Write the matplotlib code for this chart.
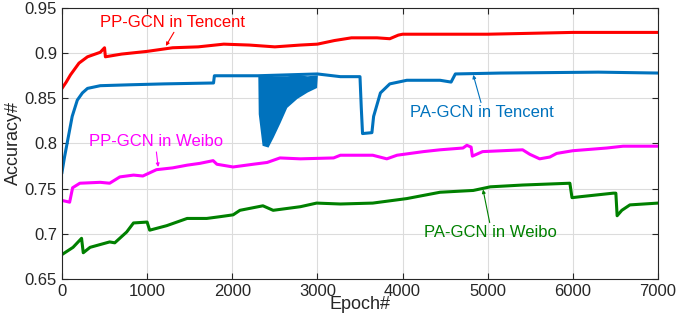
import numpy as np
import matplotlib
matplotlib.use('Agg')
import matplotlib.pyplot as plt

plt.rcParams['font.family'] = ['Liberation Sans', 'DejaVu Sans']

# PP-GCN in Tencent
pp_t_x = [0, 50, 100, 200, 300, 450, 500, 510, 700, 1000, 1300, 1600, 1900, 2200, 2500, 2800, 3000,
          3200, 3400, 3700, 3850, 3950, 4000, 4500, 5000, 5500, 6000, 6500, 7000]
pp_t_y = [0.861, 0.868, 0.876, 0.889, 0.896, 0.901, 0.906, 0.896, 0.899, 0.902, 0.906, 0.907, 0.910,
          0.909, 0.907, 0.909, 0.910, 0.914, 0.917, 0.917, 0.916, 0.920, 0.921, 0.921, 0.921, 0.922,
          0.923, 0.923, 0.923]

# PA-GCN in Tencent
pa_t_x = [0, 30, 60, 120, 180, 240, 300, 450, 800, 1200, 1780, 1790, 2300, 3000, 3270, 3500, 3515,
          3530, 3640, 3660, 3740, 3850, 4050, 4440, 4570, 4620, 5150, 6300, 7000]
pa_t_y = [0.768, 0.785, 0.800, 0.830, 0.848, 0.856, 0.861, 0.864, 0.865, 0.866, 0.867, 0.875, 0.875,
          0.877, 0.874, 0.874, 0.840, 0.811, 0.812, 0.830, 0.856, 0.866, 0.870, 0.870, 0.868, 0.877,
          0.878, 0.879, 0.878]
# oscillating band of PA-GCN in Tencent (lower envelope)
dip_x = [2300, 2305, 2350, 2420, 2480, 2560, 2640, 2760, 2880, 2990, 3000]
dip_top = [0.875, 0.875, 0.875, 0.876, 0.875, 0.875, 0.875, 0.876, 0.875, 0.876, 0.876]
dip_low = [0.875, 0.833, 0.798, 0.796, 0.807, 0.823, 0.840, 0.850, 0.857, 0.862, 0.876]

# PP-GCN in Weibo
pp_w_x = [0, 90, 125, 210, 450, 560, 680, 840, 950, 1110, 1300, 1470, 1620, 1775, 1820, 2010, 2245,
          2410, 2560, 2800, 3190, 3270, 3650, 3815, 3935, 4245, 4440, 4710, 4755, 4805, 4820, 4940,
          5410, 5495, 5610, 5730, 5810, 6000, 6400, 6590, 7000]
pp_w_y = [0.737, 0.735, 0.751, 0.756, 0.757, 0.756, 0.763, 0.765, 0.764, 0.771, 0.773, 0.776, 0.778,
          0.781, 0.777, 0.774, 0.777, 0.779, 0.784, 0.783, 0.784, 0.787, 0.787, 0.783, 0.787, 0.791,
          0.793, 0.795, 0.798, 0.796, 0.786, 0.791, 0.793, 0.788, 0.783, 0.785, 0.789, 0.792, 0.795,
          0.797, 0.797]

# PA-GCN in Weibo
pa_w_x = [0, 130, 230, 250, 330, 560, 620, 760, 840, 1000, 1030, 1230, 1470, 1700, 1860, 2010, 2090,
          2360, 2480, 2800, 2990, 3270, 3650, 4050, 4440, 4830, 5030, 5410, 5965, 5990, 6080, 6475,
          6505, 6520, 6575, 6670, 7000]
pa_w_y = [0.677, 0.685, 0.695, 0.679, 0.685, 0.691, 0.690, 0.702, 0.712, 0.713, 0.704, 0.709, 0.717,
          0.717, 0.719, 0.721, 0.726, 0.731, 0.726, 0.730, 0.734, 0.733, 0.734, 0.739, 0.746, 0.748,
          0.752, 0.754, 0.756, 0.740, 0.741, 0.745, 0.745, 0.720, 0.726, 0.732, 0.734]

red = '#ff0000'
blue = '#0072bd'
mag = '#ff00ff'
green = '#008000'

fig = plt.figure(figsize=(6.78, 3.21), dpi=100)
ax = fig.add_axes([0.0914, 0.131, 0.8791, 0.844])

ax.plot(pp_t_x, pp_t_y, color=red, lw=2.2)
ax.fill_between(dip_x, dip_low, dip_top, color=blue, lw=0)
ax.plot(pa_t_x, pa_t_y, color=blue, lw=2.2)
ax.plot(pp_w_x, pp_w_y, color=mag, lw=2.2)
ax.plot(pa_w_x, pa_w_y, color=green, lw=2.2)

ax.set_xlim(0, 7000)
ax.set_ylim(0.65, 0.95)
ax.set_xticks(np.arange(0, 7001, 1000))
ax.set_yticks([0.65, 0.7, 0.75, 0.8, 0.85, 0.9, 0.95])
ax.set_yticklabels(['0.65', '0.7', '0.75', '0.8', '0.85', '0.9', '0.95'])
ax.grid(True, color='#dcdcdc', lw=0.8)
ax.set_axisbelow(True)
ax.tick_params(direction='in', top=True, right=True, labelsize=12, colors='#262626', length=4)
for s in ax.spines.values():
    s.set_color('#262626')
    s.set_linewidth(0.8)

ax.set_xlabel('Epoch#', fontsize=13, color='#262626', labelpad=-2)
ax.set_ylabel('Accuracy#', fontsize=13, color='#262626', labelpad=2)

arrow = dict(arrowstyle='-|>', lw=0.8, mutation_scale=5, shrinkA=0, shrinkB=0)
ax.annotate('PP-GCN in Tencent', xy=(1220, 0.908), xytext=(1300, 0.9345), color=red, fontsize=12,
            ha='center', va='center', arrowprops=dict(arrow, color=red, relpos=(0.52, 0)))
ax.annotate('PA-GCN in Tencent', xy=(4830, 0.876), xytext=(4930, 0.834), color=blue, fontsize=12,
            ha='center', va='center', arrowprops=dict(arrow, color=blue, relpos=(0.5, 1)))
ax.annotate('PP-GCN in Weibo', xy=(1130, 0.774), xytext=(1105, 0.802), color=mag, fontsize=12,
            ha='center', va='center', arrowprops=dict(arrow, color=mag, relpos=(0.5, 0)))
ax.annotate('PA-GCN in Weibo', xy=(4945, 0.749), xytext=(5030, 0.701), color=green, fontsize=12,
            ha='center', va='center', arrowprops=dict(arrow, color=green, relpos=(0.5, 1)))

fig.savefig('out.png', dpi=100)
